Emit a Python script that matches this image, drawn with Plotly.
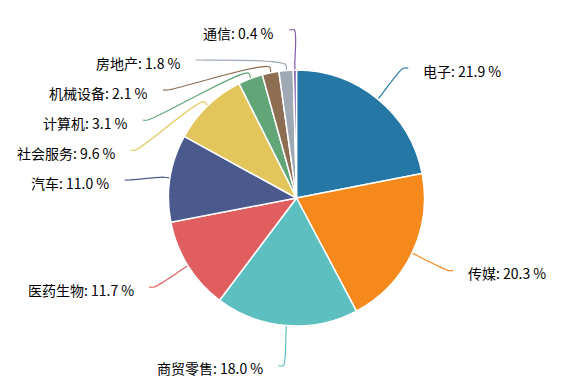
import math
import plotly.graph_objects as go

labels = ["电子", "传媒", "商贸零售", "医药生物", "汽车", "社会服务", "计算机", "机械设备", "房地产", "通信"]
values = [21.9, 20.3, 18.0, 11.7, 11.0, 9.6, 3.1, 2.1, 1.8, 0.4]
colors = ["#2578a5", "#f5891b", "#5ebfc1", "#e05e5f", "#4a5a8c", "#e3c65b",
          "#62a677", "#8d6e53", "#9fa9b4", "#7e5aa8"]

# page body has an 8px margin; lay out in figure pixels
OFF = 8
W, H = 575 - OFF, 381 - OFF
CX, CY, R = 296.5 - OFF, 198 - OFF, 128
LEN1, LEN2, GAP, HOOK = 40, 5, 13, 6
SPACING = 30

fig = go.Figure()
fig.add_trace(go.Pie(
    labels=labels, values=values, sort=False, direction="clockwise", rotation=0,
    marker=dict(colors=colors, line=dict(color="white", width=1.5)),
    textinfo="none", hoverinfo="label+percent", showlegend=False,
    domain=dict(x=[(CX - R) / W, (CX + R) / W], y=[(H - CY - R) / H, (H - CY + R) / H]),
))

total = sum(values)
items = []
cum = 0
for lab, v, c in zip(labels, values, colors):
    mid = (cum + v / 2) / total * 2 * math.pi
    cum += v
    sx, sy = math.sin(mid), -math.cos(mid)
    p0 = (CX + R * sx, CY + R * sy)
    y = CY + (R + LEN1) * sy
    side = 1 if mid < math.pi else -1
    items.append(dict(label=lab, v=v, c=c, sx=sx, sy=sy, p0=p0, y=y, side=side))

# avoid overlaps on each side
for side in (1, -1):
    grp = sorted([it for it in items if it["side"] == side], key=lambda d: d["y"])
    for i in range(1, len(grp)):
        if grp[i]["y"] < grp[i - 1]["y"] + SPACING:
            grp[i]["y"] = grp[i - 1]["y"] + SPACING

rA = R + LEN1
for it in items:
    dy = abs(it["y"] - CY)
    dx = math.sqrt(max(rA * rA - dy * dy, 0))
    x1 = CX + it["side"] * dx
    x2 = x1 + it["side"] * LEN2
    p0 = it["p0"]
    h = (p0[0] + HOOK * it["sx"], p0[1] + HOOK * it["sy"])
    xs = [p0[0], h[0], x1, x2]
    ys = [p0[1], h[1], it["y"], it["y"]]
    fig.add_trace(go.Scatter(x=xs, y=ys, mode="lines",
                             line=dict(color=it["c"], width=1.2, shape="spline", smoothing=0.9),
                             hoverinfo="skip", showlegend=False))
    fig.add_annotation(x=x2 + it["side"] * GAP, y=it["y"] + 3,
                       text=f"{it['label']}: {it['v']:.1f} %",
                       xanchor="left" if it["side"] == 1 else "right", yanchor="middle",
                       showarrow=False,
                       font=dict(family="Noto Sans CJK SC", size=14, color="#000000"))

fig.update_layout(
    width=W, height=H, margin=dict(l=0, r=0, t=0, b=0),
    paper_bgcolor="white", plot_bgcolor="rgba(0,0,0,0)",
    xaxis=dict(range=[0, W], visible=False, fixedrange=True),
    yaxis=dict(range=[H, 0], visible=False, fixedrange=True),
)
fig.write_html("out.html")
